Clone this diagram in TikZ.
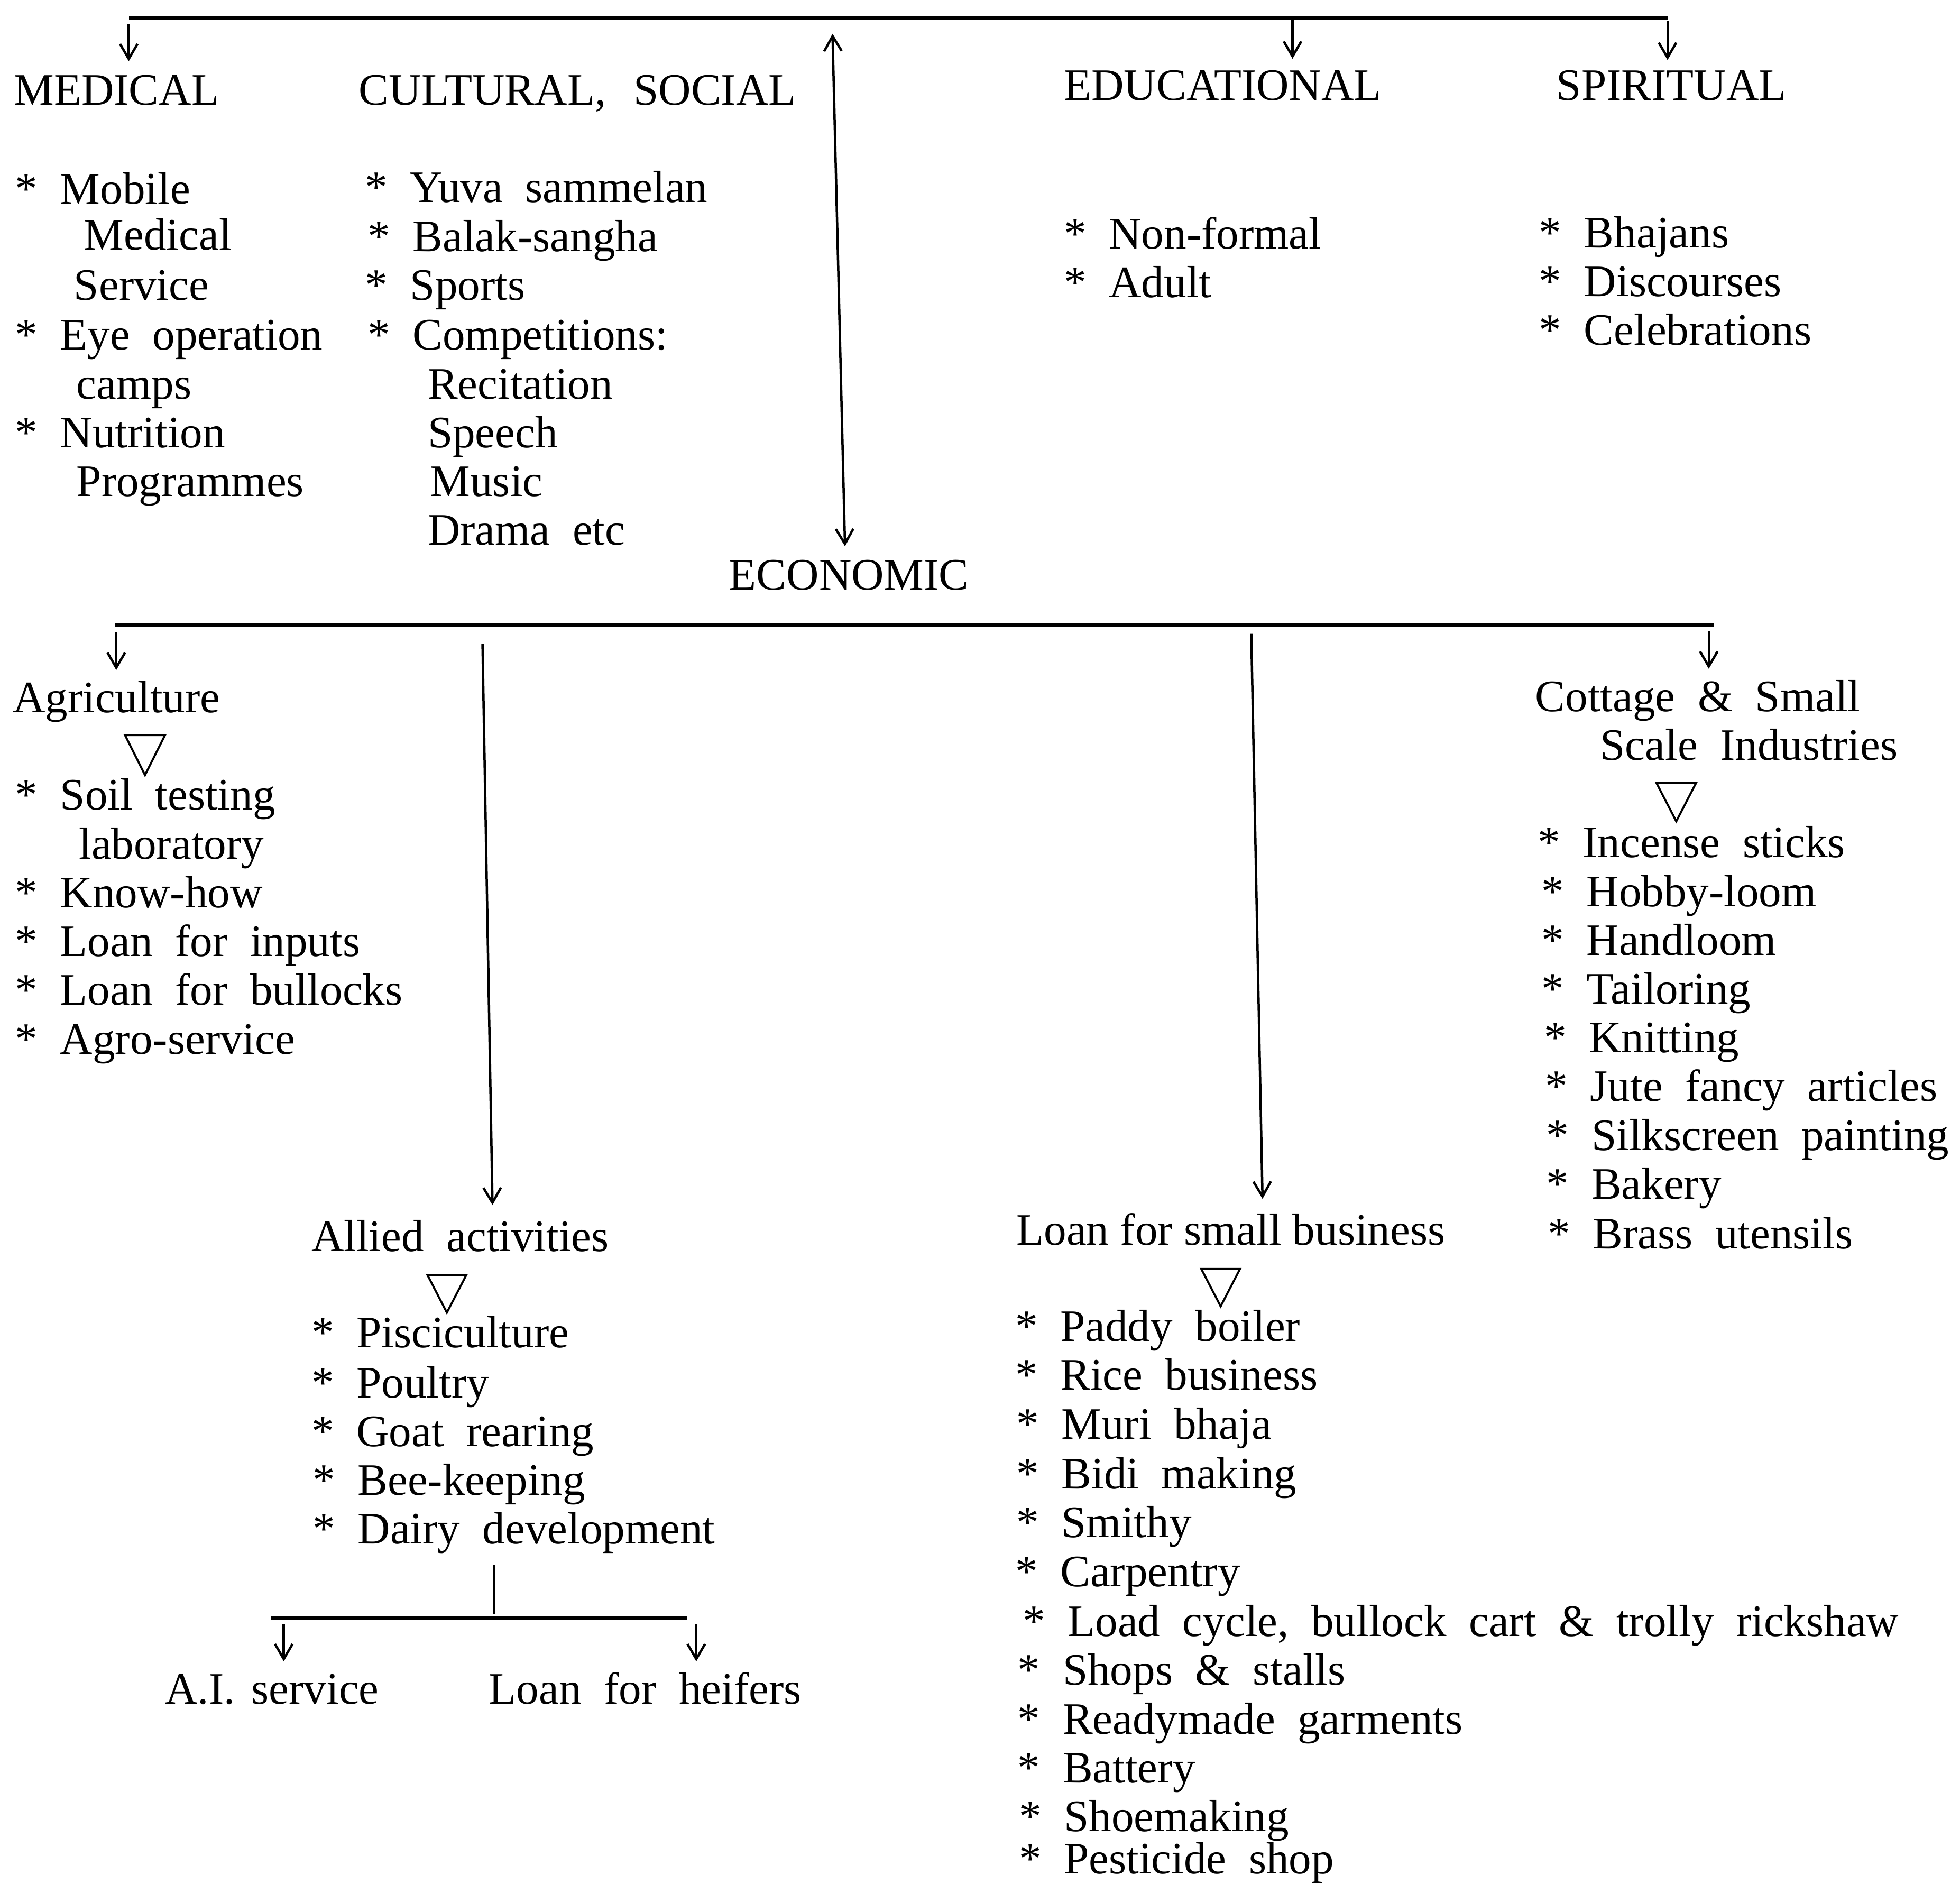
\documentclass[tikz,border=0pt]{standalone}
\usepackage{fontspec}
\setmainfont{Liberation Serif}[WordSpace=2]
\newfontfamily\tightfont{Liberation Serif}
\usetikzlibrary{arrows.meta}
\tikzset{
  txt/.style={inner sep=0pt, anchor=base west, font=\fontsize{36}{40}\selectfont},
  tighttxt/.style={txt, font=\tightfont\fontsize{36}{40}\selectfont},
  arr/.style={line width=1.9pt, -{Straight Barb[length=12pt,width=14pt,line width=1.9pt]}},
  darr/.style={line width=1.9pt, {Straight Barb[length=12pt,width=14pt,line width=1.9pt]}-{Straight Barb[length=12pt,width=14pt,line width=1.9pt]}},
  bar/.style={line width=3pt},
  thin/.style={line width=1.8pt},
  tri/.style={line width=1.6pt, line join=miter}
}
\begin{document}
\begin{tikzpicture}[x=1pt,y=-1pt]
\useasboundingbox[fill=white] (0,0) rectangle (1568,1507);

% ---------- top level ----------
\node[txt] (med)  at (11,84)   {MEDICAL};
\node[txt] (cult) at (287,84)  {CULTURAL,\hspace{4pt} SOCIAL};
\node[txt] (edu)  at (851,80)  {EDUCATIONAL};
\node[txt] (spir) at (1245,80) {SPIRITUAL};
\node[txt] (econ) at (583,472) {ECONOMIC};

\coordinate (tL) at (103,14);
\coordinate (tR) at (1334,14);
\draw[bar] (tL) -- (tR);
\coordinate (medS) at (103,19);  \coordinate (medE) at (103,49);
\coordinate (eduS) at (1034,16); \coordinate (eduE) at (1034,47);
\coordinate (spS)  at (1334,17); \coordinate (spE)  at (1334,48);
\draw[arr] (medS) -- (medE);
\draw[arr] (eduS) -- (eduE);
\draw[arr] (spS) -- (spE);
\coordinate (ecT) at (666,27);
\coordinate (ecB) at (676,437);
\draw[darr] (ecT) -- (ecB);

% MEDICAL list
\node[txt] (med1) at (12,163)  {* Mobile};
\node[txt] (med2) at (67,200)  {Medical};
\node[txt] (med3) at (59,240)  {Service};
\node[txt] (med4) at (12,280)  {* Eye operation};
\node[txt] (med5) at (61,319)  {camps};
\node[txt] (med6) at (12,358)  {* Nutrition};
\node[txt] (med7) at (61,397)  {Programmes};

% CULTURAL list
\node[txt] (cul1) at (292,162) {* Yuva sammelan};
\node[txt] (cul2) at (294,201) {* Balak-sangha};
\node[txt] (cul3) at (292,240) {* Sports};
\node[txt] (cul4) at (294,280) {* Competitions:};
\node[txt] (cul5) at (342,319) {Recitation};
\node[txt] (cul6) at (342,358) {Speech};
\node[txt] (cul7) at (344,397) {Music};
\node[txt] (cul8) at (342,436) {Drama etc};

% EDUCATIONAL list
\node[txt] (edu1) at (851,199) {* Non-formal};
\node[txt] (edu2) at (851,238) {* Adult};

% SPIRITUAL list
\node[txt] (spi1) at (1231,198) {* Bhajans};
\node[txt] (spi2) at (1231,237) {* Discourses};
\node[txt] (spi3) at (1231,276) {* Celebrations};

% ---------- economic level ----------
\coordinate (eL) at (92,500);
\coordinate (eR) at (1371,500);
\draw[bar] (eL) -- (eR);

\node[txt] (agri) at (10,570) {Agriculture};
\node[txt] (cot1) at (1228,569) {Cottage \& Small};
\node[txt] (cot2) at (1280,608) {Scale Industries};
\node[txt] (allied) at (249,1001) {Allied activities};
\node[tighttxt] (loan) at (813,996) {Loan for small business};

\coordinate (agS) at (93,506);   \coordinate (agE) at (93,536);
\coordinate (coS) at (1367,505); \coordinate (coE) at (1367,535);
\coordinate (alS) at (386,515);  \coordinate (alE) at (394,964);
\coordinate (loS) at (1001,507); \coordinate (loE) at (1010,959);
\draw[arr] (agS) -- (agE);
\draw[arr] (coS) -- (coE);
\draw[arr] (alS) -- (alE);
\draw[arr] (loS) -- (loE);

% triangles
\draw[tri] (100,588) -- (132,588) -- (116,620) -- cycle;
\draw[tri] (1325,626) -- (1357,626) -- (1341,657) -- cycle;
\draw[tri] (342,1020) -- (373,1020) -- (357.5,1050) -- cycle;
\draw[tri] (961,1015) -- (992,1015) -- (976.5,1045) -- cycle;

% Agriculture list
\node[txt] (agr1) at (12,648) {* Soil testing};
\node[txt] (agr2) at (63,687) {laboratory};
\node[txt] (agr3) at (12,726) {* Know-how};
\node[txt] (agr4) at (12,765) {* Loan for inputs};
\node[txt] (agr5) at (12,804) {* Loan for bullocks};
\node[txt] (agr6) at (12,843) {* Agro-service};

% Cottage list
\node[txt] (cot3)  at (1230,686) {* Incense sticks};
\node[txt] (cot4)  at (1233,725) {* Hobby-loom};
\node[txt] (cot5)  at (1233,764) {* Handloom};
\node[txt] (cot6)  at (1233,803) {* Tailoring};
\node[txt] (cot7)  at (1235,842) {* Knitting};
\node[txt] (cot8)  at (1236,881) {* Jute fancy articles};
\node[txt] (cot9)  at (1237,920) {* Silkscreen painting};
\node[txt] (cot10) at (1237,959) {* Bakery};
\node[txt] (cot11) at (1238,999) {* Brass utensils};

% Allied list
\node[txt] (all1) at (249,1078) {* Pisciculture};
\node[txt] (all2) at (249,1118) {* Poultry};
\node[txt] (all3) at (249,1157) {* Goat rearing};
\node[txt] (all4) at (250,1196) {* Bee-keeping};
\node[txt] (all5) at (250,1235) {* Dairy development};

% dairy split
\coordinate (dT) at (395,1252);
\coordinate (dB) at (395,1291);
\draw[thin] (dT) -- (dB);
\coordinate (dL) at (217,1294);
\coordinate (dR) at (550,1294);
\draw[bar] (dL) -- (dR);
\coordinate (aiS) at (227,1299); \coordinate (aiE) at (227,1329);
\coordinate (hfS) at (557,1299); \coordinate (hfE) at (557,1329);
\draw[arr] (aiS) -- (aiE);
\draw[arr] (hfS) -- (hfE);
\node[txt] (ai) at (132,1363) {A.I.\hspace{-5pt} service};
\node[txt] (heif) at (391,1363) {Loan for heifers};

% Loan list
\node[txt] (lo1)  at (812,1073) {* Paddy boiler};
\node[txt] (lo2)  at (812,1112) {* Rice business};
\node[txt] (lo3)  at (813,1151) {* Muri bhaja};
\node[txt] (lo4)  at (813,1191) {* Bidi making};
\node[txt] (lo5)  at (813,1230) {* Smithy};
\node[txt] (lo6)  at (812,1269) {* Carpentry};
\node[txt] (lo7)  at (818,1309) {* Load cycle, bullock cart \& trolly rickshaw};
\node[txt] (lo8)  at (814,1348) {* Shops \& stalls};
\node[txt] (lo9)  at (814,1387) {* Readymade garments};
\node[txt] (lo10) at (814,1426) {* Battery};
\node[txt] (lo11) at (815,1465) {* Shoemaking};
\node[txt] (lo12) at (815,1499) {* Pesticide shop};
\end{tikzpicture}
\end{document}
